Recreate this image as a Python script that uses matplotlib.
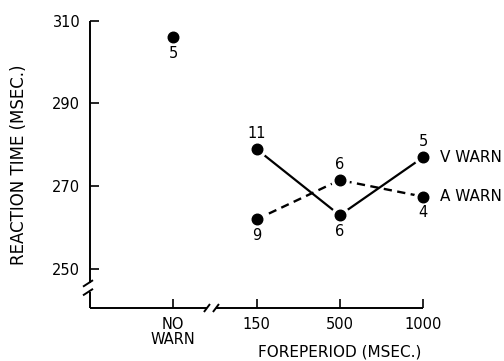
import matplotlib
matplotlib.use("Agg")
import matplotlib.pyplot as plt
import matplotlib.transforms as mtransforms

# ---- data ----
categories = ["NO\nWARN", "150", "500", "1000"]
no_warn_rt = [306]
no_warn_n = [5]
v_warn_rt = [279, 263, 277]
a_warn_rt = [262, 271.5, 267.5]
v_warn_n = [11, 6, 5]
a_warn_n = [9, 6, 4]
y_ticks = [250, 270, 290, 310]
series_names = ["V WARN", "A WARN"]

plt.rcParams['font.family'] = ['DejaVu Sans']

W, H = 504, 361
fig = plt.figure(figsize=(W / 100, H / 100), dpi=100)
ax_l, ax_r, ax_t, ax_b = 90, 423, 20.7, 308
ax = fig.add_axes([ax_l / W, 1 - ax_b / H, (ax_r - ax_l) / W, (ax_b - ax_t) / H])

xpos = list(range(1, len(categories) + 1))
fp_x = xpos[1:]
ymin, ymax = 240.6, 310
ax.set_xlim(0, 4)
ax.set_ylim(ymin, ymax)

for s in ax.spines.values():
    s.set_visible(False)

px_x = (ax_r - ax_l) / 4.0
px_y = (ax_b - ax_t) / (ymax - ymin)
def dxp(p):
    return p / px_x
def dyp(p):
    return p / px_y

axis_kw = dict(color='black', lw=1.4, clip_on=False, solid_capstyle='butt')
# y axis with break
yb1, yb2 = 246.6, 244.5
ax.plot([0, 0], [ymax, yb1], **axis_kw)
ax.plot([0, 0], [yb2, ymin], **axis_kw)
for yb in (yb1, yb2):
    ax.plot([dxp(-7), dxp(3)], [yb - dyp(3.5), yb + dyp(3)], **axis_kw)
# x axis with break
xb1, xb2 = 1.405, 1.513
ax.plot([0, xb1], [ymin, ymin], **axis_kw)
ax.plot([xb2, 4], [ymin, ymin], **axis_kw)
for xb in (xb1, xb2):
    ax.plot([xb - dxp(3), xb + dxp(3)], [ymin - dyp(4), ymin + dyp(4)], **axis_kw)

ax.set_xticks(xpos)
ax.set_xticklabels(categories, fontsize=10.5)
for lbl in ax.get_xticklabels():
    lbl.set_linespacing(1.0)
ax.set_yticks(y_ticks)
ax.set_yticklabels([str(v) for v in y_ticks], fontsize=10.5)
ax.tick_params(axis='both', direction='in', length=6.5, width=1.2)
ax.tick_params(axis='x', pad=6.5)
ax.tick_params(axis='y', pad=7)

# lines
ax.plot(fp_x, v_warn_rt, color='black', lw=1.6, zorder=2)
ax.plot(fp_x, a_warn_rt, color='black', lw=1.7, ls=(0, (3.5, 2.3)), zorder=2)

# markers with white halo
allx = [xpos[0]] + fp_x + fp_x
ally = no_warn_rt + v_warn_rt + a_warn_rt
ax.plot(allx, ally, 'o', color='white', ms=12.5, zorder=3, clip_on=False)
ax.plot(allx, ally, 'o', color='black', ms=7.6, zorder=4, clip_on=False)

# counts
def note(x, y, n, above):
    ax.annotate(str(n), (x, y), xytext=(0, 11.5 if above else -11.5),
                textcoords='offset points', ha='center', va='center',
                fontsize=10.5)

note(xpos[0], no_warn_rt[0], no_warn_n[0], False)
for x, y, n, ab in zip(fp_x, v_warn_rt, v_warn_n, [True, False, True]):
    note(x, y, n, ab)
for x, y, n, ab in zip(fp_x, a_warn_rt, a_warn_n, [False, True, False]):
    note(x, y, n, ab)

# series labels
ax.text(4 + dxp(17), v_warn_rt[-1], series_names[0], ha='left', va='center',
        fontsize=11, clip_on=False)
ax.text(4 + dxp(17), a_warn_rt[-1], series_names[1], ha='left', va='center',
        fontsize=11, clip_on=False)

# axis labels
trans = mtransforms.blended_transform_factory(ax.transData, ax.transAxes)
ax.text(3, (ax_b - 352) / (ax_b - ax_t), "FOREPERIOD (MSEC.)", transform=trans,
        ha='center', va='center', fontsize=11)
fig.text(19 / W, 1 - 165 / H, "REACTION TIME (MSEC.)", rotation=90,
         ha='center', va='center', fontsize=12)

fig.savefig("out.png", dpi=100)
